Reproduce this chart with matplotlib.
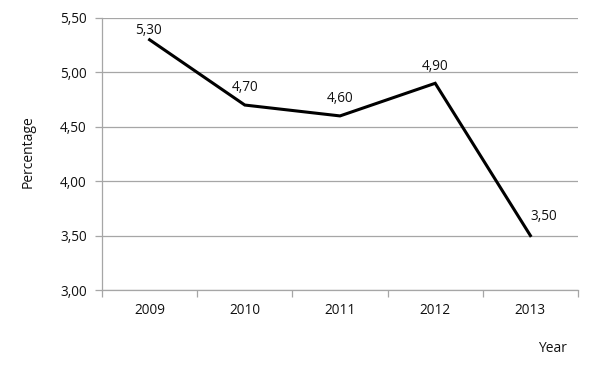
import matplotlib
matplotlib.use("Agg")
import matplotlib.pyplot as plt

years = ["2009", "2010", "2011", "2012", "2013"]
values = [5.30, 4.70, 4.60, 4.90, 3.50]
yticks = [3.00, 3.50, 4.00, 4.50, 5.00, 5.50]
label_offsets = [(-1, 1.5), (0, 7), (0, 7), (0, 7), (10, 8)]

plt.rcParams['font.family'] = ['Open Sans', 'DejaVu Sans']

fig = plt.figure(figsize=(6.0, 3.7), dpi=100)
ax = fig.add_axes([102/600, 1-290/370, 476/600, 272/370])

x = list(range(len(years)))
ax.plot(x, values, color='black', lw=2.2, solid_joinstyle='miter', zorder=3)

def fmt(v):
    return f"{v:.2f}".replace('.', ',')

for xi, v, off in zip(x, values, label_offsets):
    ax.annotate(fmt(v), (xi, v), xytext=off, textcoords='offset points',
                ha='center', va='bottom', fontsize=9.8, color='#111111')

ax.set_xlim(-0.5, len(years)-0.5)
ax.set_ylim(3.0, 5.5)
ax.set_yticks(yticks)
ax.set_yticklabels([fmt(v) for v in yticks])
ax.set_xticks(x)
ax.set_xticklabels(years)
ax.set_xticks([i - 0.5 for i in range(len(years)+1)], minor=True)

gray = '#a6a6a6'
ax.grid(axis='y', color=gray, lw=0.9)
ax.set_axisbelow(True)
for s in ['top', 'right']:
    ax.spines[s].set_visible(False)
for s in ['left', 'bottom']:
    ax.spines[s].set_color(gray)
    ax.spines[s].set_linewidth(0.9)

ax.tick_params(axis='y', length=5, color=gray, width=0.9, pad=6, labelsize=9.8, labelcolor='#111111')
ax.tick_params(axis='x', which='major', length=0, pad=9, labelsize=9.8, labelcolor='#111111')
ax.tick_params(axis='x', which='minor', length=5, color=gray, width=0.9)

fig.text(28/600, 1-152/370, "Percentage", rotation=90, ha='center', va='center', fontsize=10, color='#111111')
fig.text(553/600, 1-348/370, "Year", ha='center', va='center', fontsize=10, color='#111111')

fig.savefig("out.png", dpi=100)
